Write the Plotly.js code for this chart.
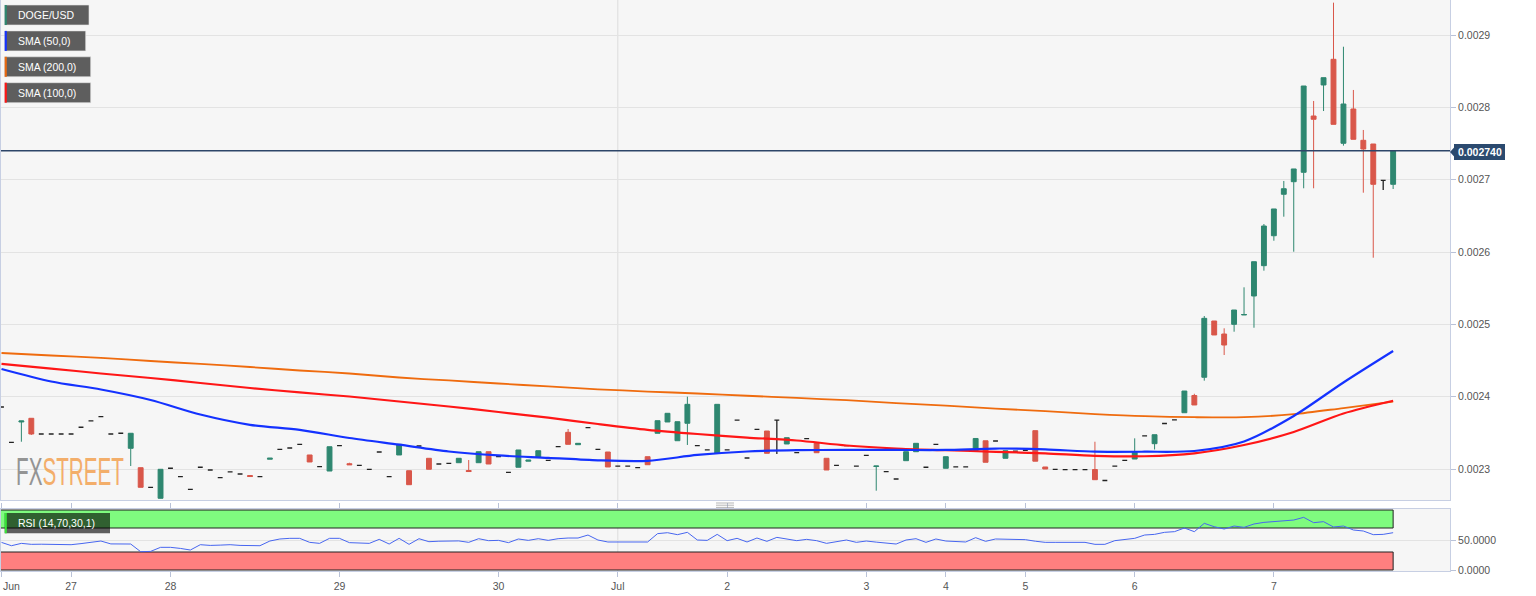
<!DOCTYPE html>
<html><head><meta charset="utf-8">
<script src="https://cdn.plot.ly/plotly-3.0.1.min.js"></script>
<style>
html,body{margin:0;padding:0;background:#fff;}
#chart{width:1536px;height:596px;}
.annotation[data-index="0"] text{transform-box:fill-box;transform-origin:left center;transform:scaleX(0.53);}
</style></head><body><div id="chart"></div>
<script>
// ---------- DATA ----------
const open = [
0.0023857,0.0023369,0.0023650,0.0023701,0.0023484,0.0023484,0.0023484,0.0023484,0.0023577,0.0023664,
0.0023723,0.0023484,0.0023494,0.0023286,0.0023018,0.0022747,0.0022595,0.0023010,0.0022894,0.0022719,
0.0023024,0.0022986,0.0022880,0.0022959,0.0022931,0.0022910,0.0022894,0.0023135,0.0023272,0.0023290,
0.0023341,0.0023194,0.0023032,0.0022972,0.0023322,0.0023073,0.0023051,0.0022996,0.0023235,0.0022894,
0.0023194,0.0022976,0.0023318,0.0023148,0.0023069,0.0023079,0.0023087,0.0022979,0.0023087,0.0023239,
0.0023173,0.0022954,0.0023024,0.0023108,0.0023162,0.0023120,0.0023308,0.0023507,0.0023336,0.0023571,
0.0023272,0.0023235,0.0023041,0.0023041,0.0023018,0.0023170,0.0023494,0.0023650,0.0023391,0.0023632,
0.0023322,0.0023263,0.0023217,0.0023263,0.0023677,0.0023152,0.0023549,0.0023525,0.0023677,0.0023346,
0.0023225,0.0023419,0.0023364,0.0023148,0.0023051,0.0023322,0.0023041,0.0023189,0.0023035,0.0022963,
0.0022862,0.0023115,0.0023239,0.0023024,0.0023341,0.0023010,0.0023028,0.0023028,0.0023252,0.0023390,
0.0023387,0.0023148,0.0023246,0.0023259,0.0023530,0.0023028,0.0022996,0.0022990,0.0022990,0.0022990,
0.0022993,0.0022841,0.0023041,0.0023120,0.0023138,0.0023459,0.0023350,0.0023629,0.0023680,0.0023778,
0.0024016,0.0024268,0.0025046,0.0024866,0.0025000,0.0025129,0.0025392,0.0025811,0.0026225,0.0026798,
0.0026972,0.0027102,0.0027880,0.0028309,0.0028664,0.0027503,0.0027977,0.0027544,0.0027493,0.0026991,
0.0026936];
const high = [
0.0023857,0.0023369,0.0023664,0.0023705,0.0023484,0.0023484,0.0023484,0.0023484,0.0023577,0.0023664,
0.0023723,0.0023484,0.0023494,0.0023494,0.0023018,0.0022747,0.0022996,0.0023010,0.0022894,0.0022719,
0.0023024,0.0022986,0.0022880,0.0022959,0.0022931,0.0022910,0.0022894,0.0023149,0.0023272,0.0023290,
0.0023341,0.0023194,0.0023032,0.0023308,0.0023322,0.0023087,0.0023051,0.0022996,0.0023235,0.0022894,
0.0023341,0.0022976,0.0023318,0.0023148,0.0023069,0.0023079,0.0023148,0.0023124,0.0023239,0.0023239,
0.0023173,0.0022954,0.0023263,0.0023122,0.0023253,0.0023120,0.0023308,0.0023553,0.0023355,0.0023571,
0.0023272,0.0023235,0.0023041,0.0023041,0.0023018,0.0023170,0.0023668,0.0023770,0.0023654,0.0024000,
0.0023322,0.0023263,0.0023894,0.0023263,0.0023677,0.0023152,0.0023549,0.0023525,0.0023677,0.0023433,
0.0023225,0.0023419,0.0023364,0.0023148,0.0023051,0.0023322,0.0023041,0.0023189,0.0023041,0.0022963,
0.0022862,0.0023239,0.0023355,0.0023024,0.0023341,0.0023170,0.0023028,0.0023028,0.0023422,0.0023390,
0.0023387,0.0023253,0.0023246,0.0023259,0.0023530,0.0023028,0.0022996,0.0022990,0.0022990,0.0022990,
0.0023377,0.0022841,0.0023041,0.0023120,0.0023424,0.0023459,0.0023474,0.0023629,0.0023680,0.0024078,
0.0024040,0.0025115,0.0025046,0.0024945,0.0025198,0.0025512,0.0025866,0.0026387,0.0026595,0.0026982,
0.0027148,0.0028295,0.0028088,0.0028410,0.0029447,0.0028838,0.0028240,0.0027687,0.0027493,0.0026991,
0.0027400];
const low = [
0.0023857,0.0023369,0.0023377,0.0023470,0.0023484,0.0023484,0.0023484,0.0023484,0.0023577,0.0023664,
0.0023723,0.0023484,0.0023494,0.0023041,0.0022747,0.0022747,0.0022595,0.0023010,0.0022894,0.0022719,
0.0023024,0.0022986,0.0022880,0.0022959,0.0022931,0.0022896,0.0022894,0.0023135,0.0023272,0.0023290,
0.0023341,0.0023097,0.0023032,0.0022972,0.0023322,0.0023059,0.0023051,0.0022996,0.0023235,0.0022894,
0.0023194,0.0022783,0.0023318,0.0022996,0.0023069,0.0023079,0.0023087,0.0022965,0.0023087,0.0023069,
0.0023173,0.0022954,0.0023024,0.0023108,0.0023162,0.0023120,0.0023308,0.0023341,0.0023336,0.0023571,
0.0023272,0.0023028,0.0023041,0.0023041,0.0023018,0.0023059,0.0023494,0.0023650,0.0023391,0.0023332,
0.0023322,0.0023263,0.0023217,0.0023263,0.0023677,0.0023152,0.0023549,0.0023217,0.0023207,0.0023346,
0.0023225,0.0023419,0.0023225,0.0022986,0.0023051,0.0023322,0.0023041,0.0023189,0.0022700,0.0022963,
0.0022862,0.0023115,0.0023239,0.0023024,0.0023341,0.0023010,0.0023028,0.0023028,0.0023252,0.0023093,
0.0023387,0.0023148,0.0023246,0.0023259,0.0023108,0.0023000,0.0022996,0.0022990,0.0022990,0.0022990,
0.0022852,0.0022841,0.0023041,0.0023120,0.0023138,0.0023459,0.0023270,0.0023629,0.0023680,0.0023778,
0.0023885,0.0024221,0.0024853,0.0024576,0.0024898,0.0025129,0.0024953,0.0025742,0.0026156,0.0026488,
0.0026004,0.0026881,0.0026881,0.0027949,0.0027765,0.0027470,0.0027558,0.0026820,0.0025921,0.0026857,
0.0026871];
const close = [
0.0023857,0.0023369,0.0023664,0.0023484,0.0023484,0.0023484,0.0023484,0.0023484,0.0023577,0.0023664,
0.0023723,0.0023484,0.0023494,0.0023494,0.0022747,0.0022747,0.0022996,0.0023010,0.0022894,0.0022719,
0.0023024,0.0022986,0.0022880,0.0022959,0.0022931,0.0022896,0.0022894,0.0023149,0.0023272,0.0023290,
0.0023341,0.0023097,0.0023032,0.0023308,0.0023322,0.0023059,0.0023051,0.0022996,0.0023235,0.0022894,
0.0023341,0.0022783,0.0023318,0.0022996,0.0023069,0.0023079,0.0023148,0.0022965,0.0023239,0.0023069,
0.0023173,0.0022954,0.0023263,0.0023122,0.0023253,0.0023120,0.0023308,0.0023341,0.0023355,0.0023571,
0.0023272,0.0023028,0.0023041,0.0023041,0.0023018,0.0023059,0.0023668,0.0023770,0.0023654,0.0023894,
0.0023322,0.0023263,0.0023894,0.0023263,0.0023677,0.0023152,0.0023549,0.0023217,0.0023677,0.0023433,
0.0023225,0.0023419,0.0023225,0.0022986,0.0023051,0.0023322,0.0023041,0.0023189,0.0023041,0.0022963,
0.0022862,0.0023239,0.0023355,0.0023024,0.0023341,0.0023170,0.0023028,0.0023028,0.0023422,0.0023093,
0.0023387,0.0023253,0.0023246,0.0023259,0.0023108,0.0023000,0.0022996,0.0022990,0.0022990,0.0022990,
0.0022852,0.0022841,0.0023041,0.0023120,0.0023231,0.0023459,0.0023474,0.0023629,0.0023680,0.0024078,
0.0023885,0.0025083,0.0024853,0.0024714,0.0025198,0.0025136,0.0025866,0.0026359,0.0026595,0.0026875,
0.0027148,0.0028295,0.0027835,0.0028410,0.0027765,0.0028046,0.0027558,0.0027424,0.0026936,0.0026991,
0.0027400];

const smaIdx = [0,5,10,15,20,25,30,35,40,45,50,55,60,65,70,75,80,85,90,95,100,105,110,115,120,125,130,135,140];
const sma50 = [0.0024383,0.0024210,0.0024099,0.0023954,0.0023753,0.0023611,0.0023541,0.0023429,0.0023336,0.0023242,
0.0023187,0.0023155,0.0023120,0.0023113,0.0023194,0.0023242,0.0023260,0.0023263,0.0023263,0.0023263,
0.0023283,0.0023271,0.0023239,0.0023239,0.0023249,0.0023380,0.0023733,0.0024196,0.0024631];
const sma100 = [0.0024452,0.0024389,0.0024320,0.0024258,0.0024189,0.0024120,0.0024058,0.0024002,0.0023933,0.0023864,
0.0023788,0.0023709,0.0023622,0.0023542,0.0023484,0.0023435,0.0023394,0.0023325,0.0023283,0.0023260,
0.0023238,0.0023216,0.0023182,0.0023176,0.0023217,0.0023332,0.0023512,0.0023767,0.0023943];
const sma200 = [0.0024604,0.0024569,0.0024535,0.0024493,0.0024452,0.0024410,0.0024362,0.0024320,0.0024265,0.0024224,
0.0024182,0.0024141,0.0024102,0.0024071,0.0024044,0.0024013,0.0023982,0.0023951,0.0023912,0.0023875,
0.0023836,0.0023799,0.0023760,0.0023730,0.0023716,0.0023716,0.0023758,0.0023843,0.0023930];

const rsi = [46,40.5,44.4,42.8,43,42.5,42.2,42.2,44,46,
48.3,43.5,43.5,43.3,30.5,31,37.8,37.8,36,33.3,
42.2,41,41.5,42.2,41,40.5,40.5,48.3,51.7,52.8,
52.8,46.1,44.4,52.8,52.8,45.6,45,44.4,51.1,43.3,
52.8,42.8,52.2,47.2,48,48,48.5,46.1,52.2,48.9,
49.4,45.6,51.7,49.4,52.2,49.4,52.2,53.3,53.3,58.3,
50,46.7,46.7,46.7,46.7,46.7,60.6,62.2,58.9,62.8,
50,49.4,59.4,48.9,52.8,46.7,53.3,47.8,54.4,51.7,
48.9,51.1,48.9,44.4,47.5,50,46.1,48.3,46.5,45,
43.3,50,52.2,46.1,51.7,48.3,47.5,46.7,53.9,47.8,
51.7,51,50.8,50.6,48,46.1,46.1,46.1,46.1,46.1,
42.8,42.8,48.9,50.5,52.8,58.3,59.4,62.8,63.9,70,
63.9,77.8,72.2,68.3,73.3,71.1,76.7,79.4,81.1,82.2,
83.3,87.8,78.9,80.6,71.7,73.3,66.7,65,58.9,59.4,
62.2];
const rsiUpper = 70, rsiLower = 30;

const tickIdx = [0,7,17,34,50,62,73,87,95,103,114,128];
const tickText = ['Jun','27','28','29','30','Jul','2','3','4','5','6','7'];
const monthStartIdx = 62;
const legendLabels = ['DOGE/USD','SMA (50,0)','SMA (200,0)','SMA (100,0)'];
const rsiLabel = 'RSI (14,70,30,1)';

// ---------- BUILD ----------
const n = open.length;
const pos = open.map((_, i) => i);
const lastClose = close[n - 1];
function pick(arr, cond){ return arr.filter((_, i) => cond(i)); }
const isFlat = i => open[i] === close[i];
const isMove = i => open[i] !== close[i];

const GREEN = '#2e8770', RED = '#d9574a';
const FONT = '"Liberation Sans", Arial, Helvetica, sans-serif';

const traces = [
  {type:'candlestick', x:pick(pos,isMove), open:pick(open,isMove), high:pick(high,isMove), low:pick(low,isMove), close:pick(close,isMove),
   xaxis:'x', yaxis:'y', whiskerwidth:0, hoverinfo:'skip',
   increasing:{line:{color:GREEN,width:1}, fillcolor:GREEN},
   decreasing:{line:{color:RED,width:1}, fillcolor:RED}},
  {type:'candlestick', x:pick(pos,isFlat), open:pick(open,isFlat), high:pick(high,isFlat), low:pick(low,isFlat), close:pick(close,isFlat),
   xaxis:'x', yaxis:'y', whiskerwidth:0, hoverinfo:'skip',
   increasing:{line:{color:'#222',width:1.3}, fillcolor:'#222'},
   decreasing:{line:{color:'#222',width:1.3}, fillcolor:'#222'}},
  {type:'scatter', mode:'lines', x:smaIdx, y:sma200, xaxis:'x', yaxis:'y', line:{color:'#ef6b0e',width:1.8,shape:'spline',smoothing:0.8}, hoverinfo:'skip'},
  {type:'scatter', mode:'lines', x:smaIdx, y:sma100, xaxis:'x', yaxis:'y', line:{color:'#ff1616',width:2.2,shape:'spline',smoothing:0.8}, hoverinfo:'skip'},
  {type:'scatter', mode:'lines', x:smaIdx, y:sma50, xaxis:'x', yaxis:'y', line:{color:'#1432ff',width:2.2,shape:'spline',smoothing:0.8}, hoverinfo:'skip'},
  {type:'scatter', mode:'lines', x:pos, y:rsi, xaxis:'x', yaxis:'y2', line:{color:'#4766f0',width:1}, hoverinfo:'skip'}
];

const PW = 1449, PL = 1, PH = 571;
const px = x => (x - PL) / PW;
const py = y => (PH - y) / PH;

const shapes = [];
const annotations = [];

// watermark (index 0)
annotations.push({xref:'paper', yref:'paper', x:px(14), y:py(471), xanchor:'left', yanchor:'middle', showarrow:false,
  text:'<span style="color:#8c8c8c">FX</span><span style="color:#f3a85f">STREET</span>',
  font:{family:'"Liberation Sans", Arial, sans-serif', size:39}, opacity:0.92});

// first x label (left-aligned so it stays inside the page)
annotations.push({xref:'paper', yref:'paper', x:px(0.5), y:py(586), xanchor:'left', yanchor:'middle', showarrow:false,
  text:tickText[0], font:{family:FONT, size:10.5, color:'#555'}});

// month start vertical line
shapes.push({type:'line', xref:'x', yref:'y domain', x0:monthStartIdx, x1:monthStartIdx, y0:0, y1:1, line:{color:'#dddddd',width:1}, layer:'below'});
shapes.push({type:'line', xref:'x', yref:'y2 domain', x0:monthStartIdx, x1:monthStartIdx, y0:0, y1:1, line:{color:'#dddddd',width:1}, layer:'below'});

// RSI bands
shapes.push({type:'rect', xref:'x', yref:'y2', x0:-2, x1:n-1, y0:rsiUpper, y1:100, fillcolor:'#7ffb7f', line:{color:'#222',width:1}, layer:'between'});
shapes.push({type:'rect', xref:'x', yref:'y2', x0:-2, x1:n-1, y0:0, y1:rsiLower, fillcolor:'#ff7f7f', line:{color:'#222',width:1}, layer:'between'});

// current price line
shapes.push({type:'line', xref:'paper', yref:'y', x0:0, x1:1, y0:lastClose, y1:lastClose, line:{color:'#2d4568',width:1.4}});

// price tag
shapes.push({type:'rect', xref:'paper', yref:'paper', x0:px(1454), x1:px(1505), y0:py(160), y1:py(144), fillcolor:'#2b4a6f', line:{width:0}});
shapes.push({type:'path', xref:'paper', yref:'paper', path:'M '+px(1450)+' '+py(152)+' L '+px(1454.5)+' '+py(147)+' L '+px(1454.5)+' '+py(157)+' Z', fillcolor:'#2b4a6f', line:{width:0}});
annotations.push({xref:'paper', yref:'paper', x:px(1480), y:py(152), xanchor:'center', yanchor:'middle', showarrow:false,
  text:'<b>'+lastClose.toFixed(6)+'</b>', font:{family:FONT, size:10.5, color:'#ffffff'}});

// legend boxes
const legendColors = [GREEN,'#1432ff','#e8680f','#ff1616'];
const legendRight = [89,85.7,90.7,90.7];
legendLabels.forEach((lab, k) => {
  const top = 5 + k * 25.9, bot = top + 20;
  shapes.push({type:'rect', xref:'paper', yref:'paper', x0:px(4.7), x1:px(legendRight[k]), y0:py(bot), y1:py(top), fillcolor:'#5e5e5e', line:{color:'#e8e8e8',width:0.6}});
  shapes.push({type:'rect', xref:'paper', yref:'paper', x0:px(4.7), x1:px(6.8), y0:py(bot), y1:py(top), fillcolor:legendColors[k], line:{width:0}});
  annotations.push({xref:'paper', yref:'paper', x:px(15.5), y:py((top+bot)/2), xanchor:'left', yanchor:'middle', showarrow:false,
    text:lab, font:{family:FONT, size:10.5, color:'#ffffff'}});
});

// RSI label
shapes.push({type:'rect', xref:'paper', yref:'paper', x0:px(4.7), x1:px(110), y0:py(533.3), y1:py(513), fillcolor:'rgba(0,0,0,0.62)', line:{width:0}});
shapes.push({type:'rect', xref:'paper', yref:'paper', x0:px(4.7), x1:px(6.8), y0:py(533.3), y1:py(513), fillcolor:'#39e639', line:{width:0}});
annotations.push({xref:'paper', yref:'paper', x:px(15.5), y:py(523), xanchor:'left', yanchor:'middle', showarrow:false,
  text:rsiLabel, font:{family:FONT, size:10.5, color:'#ffffff'}});

// divider handle
[503, 505.2, 507.4].forEach(yy => shapes.push({type:'line', xref:'paper', yref:'paper', x0:px(716), x1:px(734), y0:py(yy), y1:py(yy), line:{color:'#9a9a9a',width:0.7}}));

const AXC = '#c7cfe3';
const layout = {
  width:1536, height:596,
  margin:{l:PL, r:1536 - PL - PW, t:0, b:596 - PH},
  paper_bgcolor:'#ffffff', plot_bgcolor:'#f6f6f6',
  showlegend:false, dragmode:false, boxgap:0.3,
  font:{family:FONT, size:10.5, color:'#555'},
  xaxis:{type:'linear', anchor:'y2', range:[-0.05, 145.72], showgrid:false, zeroline:false,
    tickmode:'array', tickvals:tickIdx, ticktext:tickText.map((t, i) => i === 0 ? '' : t), ticks:'outside', ticklen:5, tickcolor:'#b9c2d8',
    tickfont:{family:FONT, size:10.5, color:'#555'},
    showline:true, linecolor:AXC, linewidth:1, mirror:'all', rangeslider:{visible:false}, fixedrange:true},
  yaxis:{domain:[(PH - 500) / PH, 1], anchor:'x', side:'right', range:[0.00225714, 0.00294839],
    tick0:0.0023, dtick:0.0001, tickformat:'.4f', ticks:'outside', ticklen:5, tickcolor:'#b9c2d8',
    tickfont:{family:FONT, size:10.5, color:'#555'},
    showgrid:true, gridcolor:'#e3e3e3', zeroline:false, showline:true, linecolor:AXC, mirror:true, fixedrange:true},
  yaxis2:{domain:[0, (PH - 509) / PH], anchor:'x', side:'right', range:[-1.67, 101.7],
    tickmode:'array', tickvals:[0,50], tickformat:'.4f', ticks:'outside', ticklen:5, tickcolor:'#b9c2d8',
    tickfont:{family:FONT, size:10.5, color:'#555'},
    showgrid:true, gridcolor:'#e3e3e3', zeroline:false, showline:true, linecolor:AXC, mirror:true, fixedrange:true},
  shapes:shapes, annotations:annotations
};

Plotly.newPlot('chart', traces, layout, {staticPlot:true, displayModeBar:false});
</script></body></html>
